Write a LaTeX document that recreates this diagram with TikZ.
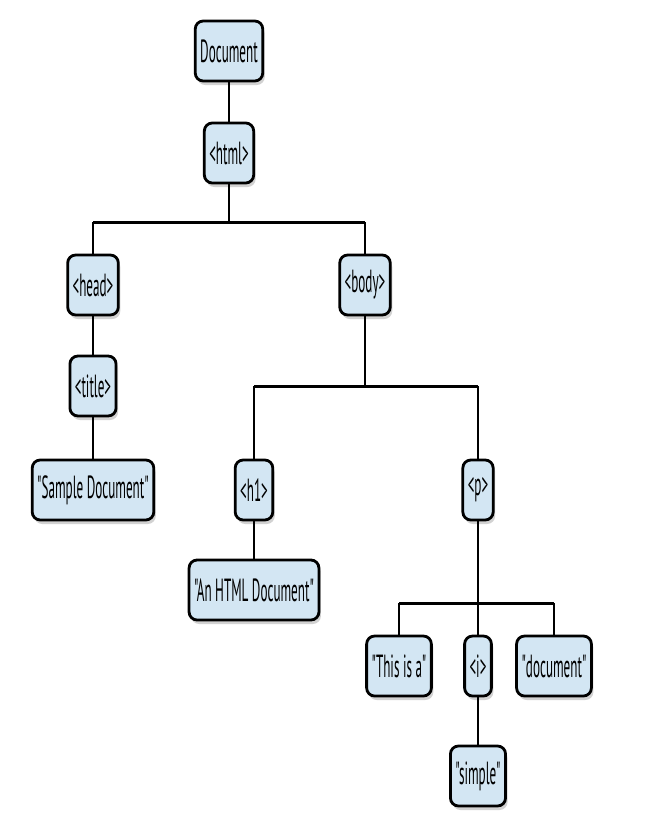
\documentclass[tikz,border=0pt]{standalone}
\usepackage{fontspec}
\setmainfont{PT Sans}[FakeStretch=0.41,Ligatures=TeXOff]
\usetikzlibrary{shadows}
\definecolor{domfill}{HTML}{D3E6F3}
\tikzset{
  dom/.style={draw=black,line width=2.8pt,rounded corners=8pt,fill=domfill,
    minimum height=60pt,inner xsep=5pt,font=\fontsize{32}{34}\selectfont,
    drop shadow={shadow xshift=2pt,shadow yshift=-4pt,fill=black!35}},
  link/.style={line width=1.3pt},
  bar/.style={line width=3pt}
}
\begin{document}
\begin{tikzpicture}[x=1pt,y=-1pt]
		\useasboundingbox (0,0) rectangle (650,830);
		% tree nodes
		\node[dom] (doc) at (229,51) {Document};
		\node[dom] (html) at (229,153) {<html>};
		\node[dom] (head) at (93,285) {<head>};
		\node[dom] (body) at (365,285) {<body>};
		\node[dom] (title) at (93,386) {<title>};
		\node[dom] (sample) at (93,490) {"Sample Document"};
		\node[dom] (h1) at (254,490) {<h1>};
		\node[dom] (p) at (478,490) {<p>};
		\node[dom] (htmldoc) at (254,590) {"An HTML Document"};
		\node[dom] (this) at (399,666) {"This is a"};
		\node[dom] (i) at (478,666) {<i>};
		\node[dom] (document) at (554,666) {"document"};
		\node[dom] (simple) at (478,776) {"simple"};
		% connectors
		\draw[link] (doc) -- (html);
		\draw[link] (html) -- (html |- 0,222);
		\draw[bar] (head |- 0,222) -- (body |- 0,222);
		\draw[link] (head |- 0,222) -- (head);
		\draw[link] (body |- 0,222) -- (body);
		\draw[link] (head) -- (title);
		\draw[link] (title) -- (sample);
		\draw[link] (body) -- (body |- 0,386);
		\draw[bar] (h1 |- 0,386) -- (p |- 0,386);
		\draw[link] (h1 |- 0,386) -- (h1);
		\draw[link] (p |- 0,386) -- (p);
		\draw[link] (h1) -- (htmldoc);
		\draw[link] (p) -- (i);
		\draw[bar] (this |- 0,603) -- (document |- 0,603);
		\draw[link] (this |- 0,603) -- (this);
		\draw[link] (document |- 0,603) -- (document);
		\draw[link] (i) -- (simple);
\end{tikzpicture}
\end{document}
